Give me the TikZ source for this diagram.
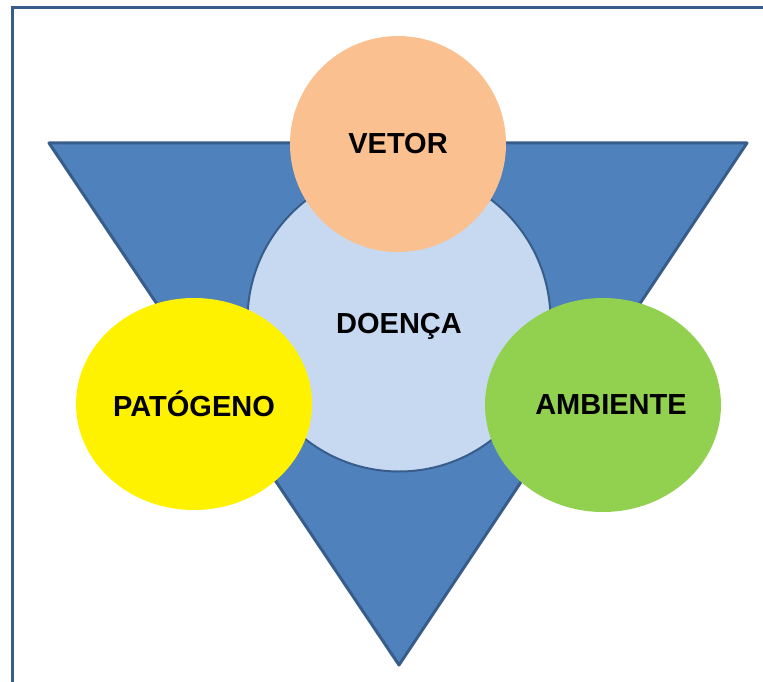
\documentclass[tikz,border=0pt]{standalone}
\usepackage{fontspec}
\setmainfont{Liberation Sans}
\usetikzlibrary{shapes.geometric}
\definecolor{triblue}{HTML}{4F81BD}
\definecolor{edgeblue}{HTML}{385D8A}
\definecolor{lightblue}{HTML}{C6D9F1}
\definecolor{peach}{HTML}{FAC090}
\definecolor{leafgreen}{HTML}{92D050}
\begin{document}
\begin{tikzpicture}[x=1pt,y=-1pt]
	\useasboundingbox (0,0) rectangle (763,682);
	% frame
	\draw[edgeblue,line width=3pt] (12.5,682) -- (12.5,7.5) -- (763,7.5);
	
	% triangle
	\coordinate (L) at (49,143);
	\coordinate (R) at (747,143);
	\coordinate (B) at (399,665);
	\draw[fill=triblue,draw=edgeblue,line width=3pt,line join=round] (L) -- (R) -- (B) -- cycle;
	
	\begin{scope}[every node/.style={font=\bfseries\fontsize{29}{32}\selectfont,inner sep=0pt}]
		\node (D) [circle,fill=lightblue,draw=edgeblue,line width=2pt,minimum size=303pt] at (399,320) {};
		\node at (399,326) {DOENÇA};
		\node (V) [circle,fill=peach,minimum size=216pt] at (398,144) {VETOR};
		\node (P) [ellipse,fill=yellow,minimum width=236pt,minimum height=212pt] at (194,404) {PATÓGENO};
		\node (A) [ellipse,fill=leafgreen,minimum width=236pt,minimum height=214pt] at (603,405) {};
		\node at (611,405) {AMBIENTE};
	\end{scope}
\end{tikzpicture}
\end{document}
